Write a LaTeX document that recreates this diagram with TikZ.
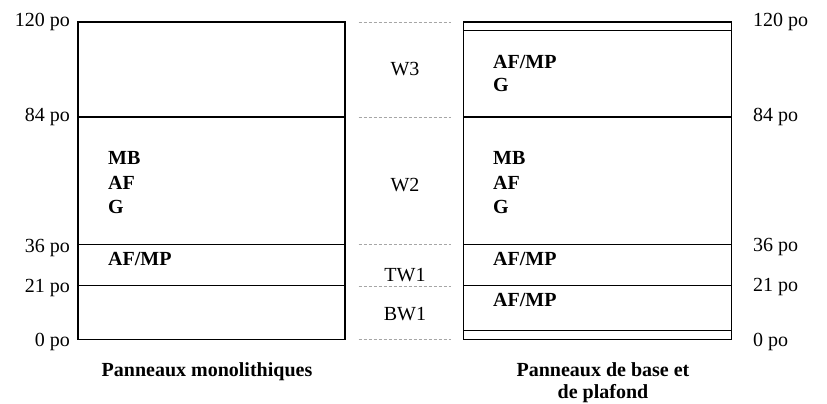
\documentclass[tikz,border=0pt]{standalone}
\usepackage{fontspec}
\setmainfont{Liberation Serif}
\usetikzlibrary{positioning}
\begin{document}
\begin{tikzpicture}[x=1pt,y=-1pt,font=\fontsize{20}{24}\selectfont]
% ---- styles ----
\tikzstyle{panel}=[draw,line width=1.25pt]
\tikzstyle{guide}=[draw=gray!70,line width=0.6pt,dash pattern=on 3pt off 2pt]
\tikzstyle{mat}=[inner sep=0pt,anchor=base west,font=\fontsize{20}{24}\selectfont\bfseries]
\tikzstyle{lvl}=[inner sep=0pt]
\tikzstyle{wall}=[inner sep=0pt,anchor=base]

\useasboundingbox (0,0) rectangle (827,404);

% ---- left panel (monolithic) ----
\draw[panel] (78,22) rectangle (345,339.5);
\draw[panel] (78,117) -- (345,117);
\draw[panel] (78,244.5) -- (345,244.5);
\draw[panel] (78,285.5) -- (345,285.5);

% ---- right panel (base + ceiling) ----
\draw[panel] (463.5,22) rectangle (731.5,339.5);
\draw[panel] (463.5,30.7) -- (731.5,30.7);
\draw[panel] (463.5,117) -- (731.5,117);
\draw[panel] (463.5,244.5) -- (731.5,244.5);
\draw[panel] (463.5,285.5) -- (731.5,285.5);
\draw[panel] (463.5,330.7) -- (731.5,330.7);

% ---- dashed guides ----
\draw[guide] (358.5,22) -- (451,22);
\draw[guide] (358.5,117) -- (451,117);
\draw[guide] (358.5,244.5) -- (451,244.5);
\draw[guide] (358.5,286) -- (451,286);
\draw[guide] (358.5,339.5) -- (451,339.5);

% ---- height labels ----
\node[lvl,anchor=base east] (h120l) at (70,26.7) {120 po};
\node[lvl,anchor=base east] (h84l) at (70,121.7) {84 po};
\node[lvl,anchor=base east] (h36l) at (70,252.5) {36 po};
\node[lvl,anchor=base east] (h21l) at (70,292) {21 po};
\node[lvl,anchor=base east] (h0l) at (70,346.7) {0 po};

\node[lvl,anchor=base west] (h120r) at (753,26.7) {120 po};
\node[lvl,anchor=base west] (h84r) at (753,121.7) {84 po};
\node[lvl,anchor=base west] (h36r) at (753,251.7) {36 po};
\node[lvl,anchor=base west] (h21r) at (753,291.7) {21 po};
\node[lvl,anchor=base west] (h0r) at (753,346.7) {0 po};

% ---- wall segments ----
\node[wall] (w3) at (405,75) {W3};
\node[wall] (w2) at (405,191.5) {W2};
\node[wall] (tw1) at (405,281.5) {TW1};
\node[wall] (bw1) at (405,320) {BW1};

% ---- materials, left ----
\node[mat] (mbl) at (108,164.5) {MB};
\node[mat] (afl) at (108,189) {AF};
\node[mat] (gl) at (108,213.5) {G};
\node[mat] (afmpl) at (108,265) {AF/MP};

% ---- materials, right ----
\node[mat] (afmptop) at (493,68.3) {AF/MP};
\node[mat] (gtop) at (493,92) {G};
\node[mat] (mbr) at (493,164.5) {MB};
\node[mat] (afr) at (493,189) {AF};
\node[mat] (gr) at (493,213.5) {G};
\node[mat] (afmptw) at (493,265) {AF/MP};
\node[mat] (afmpbw) at (493,306) {AF/MP};

% ---- captions ----
\node[mat,anchor=base] (capl) at (207,376.7) {Panneaux monolithiques};
\node[mat,anchor=base] (capr) at (603,376.7) {Panneaux de base et};
\node[mat,anchor=base] (capr2) at (603,398) {de plafond};

\end{tikzpicture}
\end{document}
